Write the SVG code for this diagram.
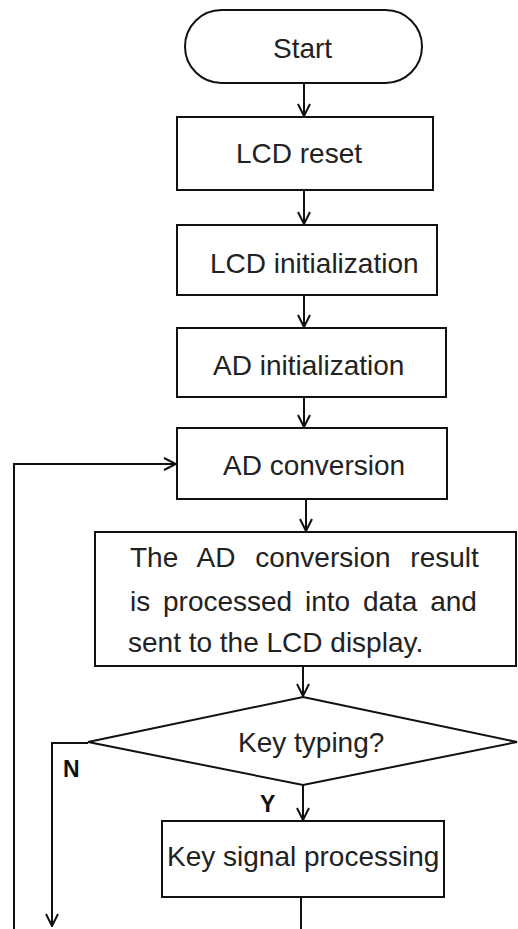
<svg xmlns="http://www.w3.org/2000/svg" width="518" height="929" viewBox="0 0 518 929">
<style>
.shape{fill:#fff;stroke:#111;stroke-width:2}
.t{font-family:"Liberation Sans",Arial,sans-serif;font-size:28px;fill:#222}
.yn{font-family:"Liberation Sans",Arial,sans-serif;font-size:23px;font-weight:bold;fill:#111}
.c{fill:none;stroke:#111;stroke-width:2}
</style>
<defs>
<marker id="arr" viewBox="0 0 14 14" refX="13" refY="7" markerWidth="14" markerHeight="14" markerUnits="userSpaceOnUse" orient="auto">
<path d="M1,1 L13,7 L1,13" fill="none" stroke="#111" stroke-width="2"/>
</marker>
</defs>
<rect width="518" height="929" fill="#fff"/>
<g id="connectors">
<line class="c" x1="304" y1="83" x2="304" y2="116" marker-end="url(#arr)"/>
<line class="c" x1="304" y1="190" x2="304" y2="224" marker-end="url(#arr)"/>
<line class="c" x1="304" y1="295" x2="304" y2="327" marker-end="url(#arr)"/>
<line class="c" x1="304" y1="397" x2="304" y2="427" marker-end="url(#arr)"/>
<line class="c" x1="306" y1="499" x2="306" y2="531" marker-end="url(#arr)"/>
<line class="c" x1="303" y1="666" x2="303" y2="696" marker-end="url(#arr)"/>
<line class="c" x1="303" y1="785" x2="303" y2="820" marker-end="url(#arr)"/>
<polyline class="c" points="88,743 52,743 52,926" marker-end="url(#arr)"/>
<line class="c" x1="301" y1="897" x2="301" y2="929"/>
<polyline class="c" points="14,929 14,464 176,464" marker-end="url(#arr)"/>
<text class="yn" x="63" y="777">N</text>
<text class="yn" x="260" y="812">Y</text>
</g>
<g id="start">
<rect class="shape" x="185" y="10" width="237" height="73" rx="36.5"/>
<text class="t" x="273" y="58">Start</text>
</g>
<g id="lcd-reset">
<rect class="shape" x="177" y="117" width="256" height="73"/>
<text class="t" x="236" y="163">LCD reset</text>
</g>
<g id="lcd-init">
<rect class="shape" x="177" y="225" width="260" height="70"/>
<text class="t" x="210" y="273">LCD initialization</text>
</g>
<g id="ad-init">
<rect class="shape" x="177" y="328" width="269" height="69"/>
<text class="t" x="213" y="375">AD initialization</text>
</g>
<g id="ad-conv">
<rect class="shape" x="177" y="428" width="270" height="71"/>
<text class="t" x="223" y="475">AD conversion</text>
</g>
<g id="process">
<rect class="shape" x="95" y="532" width="421" height="134"/>
<text class="t" x="130" y="567" word-spacing="12">The AD conversion result</text>
<text class="t" x="130" y="611" word-spacing="5">is processed into data and</text>
<text class="t" x="128" y="652">sent to the LCD display.</text>
</g>
<g id="decision">
<polygon class="shape" points="303,697 517,742 303,785 88,742"/>
<text class="t" x="238" y="752">Key typing?</text>
</g>
<g id="key-proc">
<rect class="shape" x="162" y="821" width="282" height="76"/>
<text class="t" x="167" y="866">Key signal processing</text>
</g>
</svg>
